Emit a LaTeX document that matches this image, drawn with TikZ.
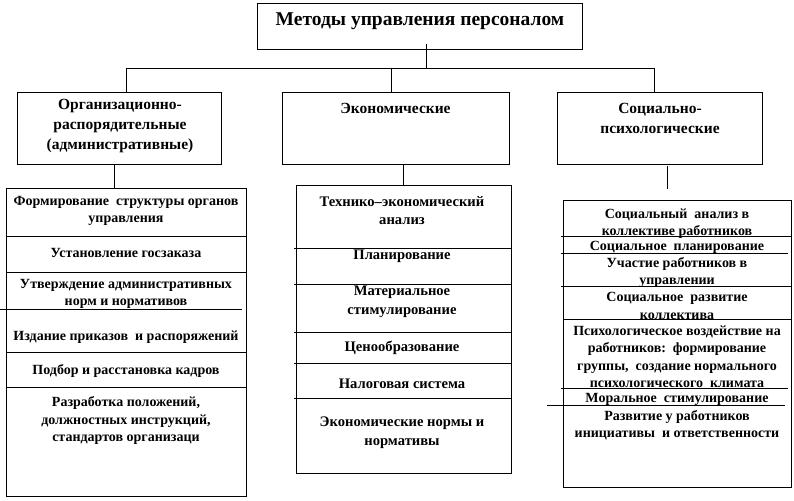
\documentclass[tikz,border=0pt]{standalone}
\usepackage{fontspec}
\setmainfont{Liberation Serif}
\begin{document}
\begin{tikzpicture}[x=1pt,y=-1pt,
  box/.style={draw,line width=0.8pt,inner sep=0pt},
  ln/.style={line width=0.8pt},
  txt/.style={font=\fontsize{14}{17.5}\selectfont\bfseries,align=center,inner sep=0pt},
  mtxt/.style={font=\fontsize{14.6}{18.5}\selectfont\bfseries,align=center,inner sep=0pt},
  htxt/.style={font=\fontsize{15.5}{20}\selectfont\bfseries,align=center,inner sep=0pt},
  ttxt/.style={font=\fontsize{19.5}{22}\selectfont\bfseries,align=center,inner sep=0pt}]
\useasboundingbox[fill=white] (0,0) rectangle (794,500);
% boxes
\node[box,minimum width=325pt,minimum height=46pt] (top) at (419.5,26) {};
\node[box,minimum width=204pt,minimum height=71.5pt] (l2a) at (119,128.25) {};
\node[box,minimum width=227pt,minimum height=71.5pt] (l2b) at (395.5,128.25) {};
\node[box,minimum width=205pt,minimum height=71.5pt] (l2c) at (659.5,128.25) {};
\node[box,minimum width=240pt,minimum height=308pt] (la) at (126,342) {};
\node[box,minimum width=215pt,minimum height=288pt] (lb) at (403.5,329) {};
\node[box,minimum width=228pt,minimum height=287pt] (lc) at (677,343.5) {};
% connectors
\coordinate (j) at (426,68);
\coordinate (bl) at (126,68);
\coordinate (bm) at (391,68);
\coordinate (br) at (654,68);
\draw[ln] ([yshift=5pt]top.south -| j) -- (j);
\draw[ln] (bl) -- (br);
\draw[ln] (bl) -- (l2a.north -| bl);
\draw[ln] (bm) -- (l2b.north -| bm);
\draw[ln] (br) -- (l2c.north -| br);
\coordinate (ca) at (114,0);
\coordinate (cb) at (403,0);
\draw[ln] (l2a.south -| ca) -- (la.north -| ca);
\draw[ln] (l2b.south -| cb) -- (lb.north -| cb);
\coordinate (cc1) at (667,166);
\coordinate (cc2) at (667,189);
\draw[ln] (cc1) -- (cc2);
% separators left
\draw[ln] (6,236) -- (247,236);
\draw[ln] (6,272) -- (247,272);
\draw[ln] (0,309) -- (242,309);
\draw[ln] (6,352) -- (247,352);
\draw[ln] (6,387) -- (247,387);
% separators middle
\draw[ln] (294,248) -- (511,248);
\draw[ln] (294,284) -- (511,284);
\draw[ln] (294,332) -- (511,332);
\draw[ln] (294,363) -- (511,363);
\draw[ln] (294,398) -- (511,398);
% separators right
\draw[ln] (561,236) -- (791,236);
\draw[ln] (561,253) -- (788,253);
\draw[ln] (561,286) -- (791,286);
\draw[ln] (563,319) -- (792,319);
\draw[ln] (561,388) -- (788,388);
\draw[ln] (547,405) -- (785,405);
% texts
\node[ttxt] (tt) at (420,21) {Методы управления персоналом};
\node[htxt] (ha) at (120,126.5) {Организационно-\\распорядительные\\(административные)};
\node[htxt] (hb) at (395.5,108) {Экономические};
\node[htxt] (hc) at (660,118) {Социально-\\психологические};
\node[txt] (fa) at (126,211) {Формирование\ \ структуры органов\\управления};
\node[txt] (fb) at (126,253) {Установление госзаказа};
\node[txt] (fc) at (126,294) {Утверждение административных\\норм и нормативов};
\node[txt] (fd) at (126,337) {Издание приказов\ \ и распоряжений};
\node[txt] (fe) at (126,371) {Подбор и расстановка кадров};
\node[txt] (ff) at (126,420.5) {Разработка положений,\\должностных инструкций,\\стандартов организаци};
\node[mtxt] (ma) at (402,210.5) {Технико–экономический\\анализ};
\node[mtxt] (mb) at (402,256) {Планирование};
\node[mtxt] (mc) at (402,302) {Материальное\\стимулирование};
\node[mtxt] (md) at (402,348) {Ценообразование};
\node[mtxt] (me) at (402,384) {Налоговая система};
\node[mtxt] (mf) at (402,432.5) {Экономические нормы и\\нормативы};
\node[txt] (ra) at (677,223.5) {Социальный\ \ анализ в\\коллективе работников};
\node[txt] (rb) at (677,247) {Социальное\ \ планирование};
\node[txt] (rc) at (677,272.5) {Участие работников в\\управлении};
\node[txt] (rd) at (677,306) {Социальное\ \ развитие\\коллектива};
\node[txt] (re) at (677,356.5) {Психологическое воздействие на\\работников:\ \ формирование\\группы,\ \ создание нормального\\психологического\ \ климата};
\node[txt] (rf) at (677,399) {Моральное\ \ стимулирование};
\node[txt] (rg) at (677,425) {Развитие у работников\\инициативы\ \ и ответственности};
\end{tikzpicture}
\end{document}
